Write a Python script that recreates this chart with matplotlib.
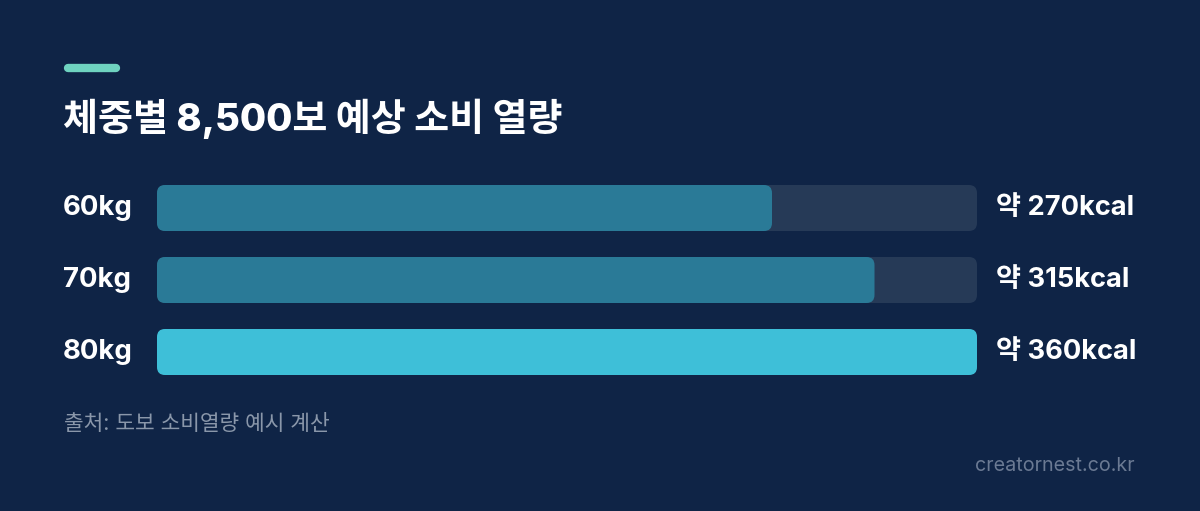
import matplotlib
matplotlib.use("Agg")
import matplotlib.pyplot as plt
from matplotlib.patches import FancyBboxPatch
from matplotlib.transforms import blended_transform_factory

# data
weights = ["60kg", "70kg", "80kg"]
kcal = [270, 315, 360]
kcal_labels = ["약 270kcal", "약 315kcal", "약 360kcal"]
title = "체중별 8,500보 예상 소비 열량"
source = "출처: 도보 소비열량 예시 계산"
brand = "creatornest.co.kr"

BG = "#0f2446"
TRACK = "#263a57"
BAR = "#2a7a97"
BAR_HI = "#3ebfd8"
FONT = ["Inter", "Noto Sans CJK KR", "DejaVu Sans"]

W, H = 1200, 511
fig = plt.figure(figsize=(W / 100, H / 100), dpi=100, facecolor=BG)

# overlay axes in pixel coords
ov = fig.add_axes([0, 0, 1, 1])
ov.set_xlim(0, W)
ov.set_ylim(H, 0)
ov.axis("off")
ov.set_facecolor(BG)

# accent line + title
ov.plot([68, 116], [68, 68], color="#6fd3c0", lw=6, solid_capstyle="round")
ov.text(63, 119, title, color="white", fontsize=27.4, fontweight="heavy",
        family=FONT, va="center", ha="left")

# bar axes
left, right, top, bottom = 157, 977, 172, 388
ax = fig.add_axes([left / W, (H - bottom) / H, (right - left) / W, (bottom - top) / H])
ax.set_xlim(0, max(kcal))
ax.set_ylim(len(weights) - 0.5, -0.5)
ax.axis("off")

px_x = max(kcal) / (right - left)
px_y = len(weights) / (bottom - top)
r = 8 * px_x
aspect = px_y / px_x
bh = 46 * px_y

for i, (w, v, lab) in enumerate(zip(weights, kcal, kcal_labels)):
    ax.add_patch(FancyBboxPatch((0, i - bh / 2), max(kcal), bh,
                                boxstyle=f"round,pad=0,rounding_size={r}",
                                mutation_aspect=aspect, fc=TRACK, ec="none"))
    ax.add_patch(FancyBboxPatch((0, i - bh / 2), v, bh,
                                boxstyle=f"round,pad=0,rounding_size={r}",
                                mutation_aspect=aspect,
                                fc=BAR_HI if v == max(kcal) else BAR, ec="none"))

tr = blended_transform_factory(ov.transData, ax.transData)
for i, (w, lab) in enumerate(zip(weights, kcal_labels)):
    ov.text(63, i, w, transform=tr, color="white", fontsize=19.8, fontweight="bold",
            family=FONT, va="center", ha="left")
    ov.text(996, i, lab, transform=tr, color="white", fontsize=19.6, fontweight="bold",
            family=FONT, va="center", ha="left")

ov.text(64, 424, source, color="#8a97aa", fontsize=15.4, family=FONT,
        va="center", ha="left")
ov.text(1135, 466, brand, color="#6b7a93", fontsize=14.2, family=FONT,
        va="center", ha="right")

fig.savefig("out.png", dpi=100, facecolor=BG)
